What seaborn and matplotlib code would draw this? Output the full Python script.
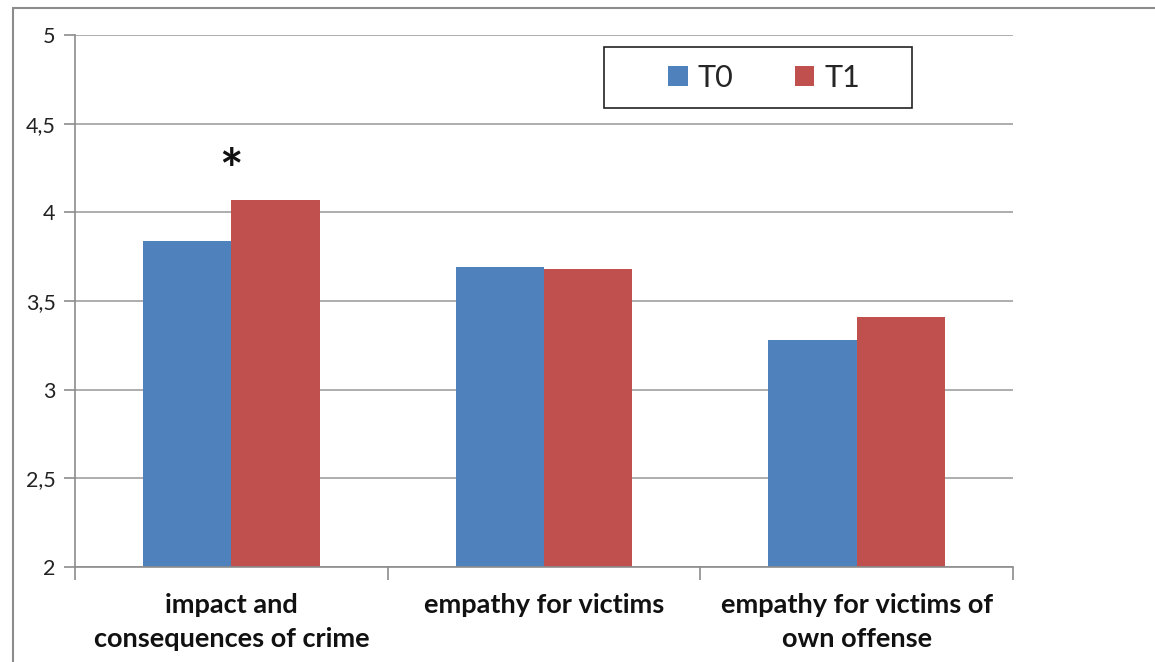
import matplotlib
matplotlib.use("Agg")
import matplotlib.pyplot as plt
import seaborn as sns
import pandas as pd
from matplotlib.patches import Rectangle, Patch

categories = ["impact and\nconsequences of crime", "empathy for victims", "empathy for victims of\nown offense"]
t0_values = [3.84, 3.69, 3.28]
t1_values = [4.07, 3.68, 3.41]
series = ["T0", "T1"]
y_ticks = [2, 2.5, 3, 3.5, 4, 4.5, 5]
y_labels = ["2", "2,5", "3", "3,5", "4", "4,5", "5"]

df = pd.DataFrame({
    "category": categories * 2,
    "value": t0_values + t1_values,
    "time": ["T0"] * 3 + ["T1"] * 3,
})

sns.set_theme(style="white")
plt.rcParams["font.family"] = ["Lato", "DejaVu Sans"]

W, H = 1155, 662
fig = plt.figure(figsize=(W / 100, H / 100), dpi=100)
fig.patch.set_facecolor("white")
# outer frame (cut off at right and bottom as in the reference)
fig.patches.append(Rectangle((13 / W, -0.05), 1.2, 1 - 8 / H + 0.05, transform=fig.transFigure,
                             fill=False, edgecolor="#8c8c8c", linewidth=1.5))

ax = fig.add_axes([75 / W, 1 - 567 / H, 938 / W, 532 / H])
palette = {"T0": "#4F81BD", "T1": "#C0504D"}
sns.barplot(data=df, x="category", y="value", hue="time", palette=palette,
            width=0.566, ax=ax, linewidth=0, saturation=1, legend=False)

ax.set_ylim(2, 5)
ax.set_xlim(-0.5, 2.5)
ax.set_yticks(y_ticks)
ax.set_yticklabels(y_labels, fontsize=15.5, color="#222222")
ax.yaxis.grid(True, color="#a0a0a0", linewidth=1.2)
ax.set_axisbelow(True)
for s in ["top", "right"]:
    ax.spines[s].set_visible(False)
for s in ["left", "bottom"]:
    ax.spines[s].set_color("#8c8c8c")
    ax.spines[s].set_linewidth(1.2)
ax.tick_params(axis="y", which="major", left=True, length=8, color="#8c8c8c", width=1.2, pad=6)
ax.set_xticks([0, 1, 2])
ax.set_xticklabels(categories, fontsize=19.5, fontweight="bold", color="#111111", linespacing=1.5)
ax.tick_params(axis="x", which="major", length=0, pad=19)
ax.set_xticks([-0.5, 0.5, 1.5, 2.5], minor=True)
ax.tick_params(axis="x", which="minor", bottom=True, length=9, color="#8c8c8c", width=1.2)
ax.set_xlabel("")
ax.set_ylabel("")

ax.text(0, 4.22, "*", ha="center", va="center", fontsize=40, fontweight="bold", color="#111111")

# legend frame
fig.patches.append(Rectangle((604 / W, 1 - 108 / H), 308 / W, 61 / H, transform=fig.transFigure,
                             fill=False, edgecolor="#222222", linewidth=1.2, zorder=5))
handles = [Patch(facecolor=palette[s], edgecolor="none") for s in series]
leg = fig.legend(handles, series, loc="center", bbox_to_anchor=(764 / W, 1 - 78 / H),
                 ncol=2, fontsize=22, frameon=False, handlelength=0.65,
                 handleheight=0.65, handletextpad=0.33, columnspacing=2.0)

fig.savefig("out.png", dpi=100)
